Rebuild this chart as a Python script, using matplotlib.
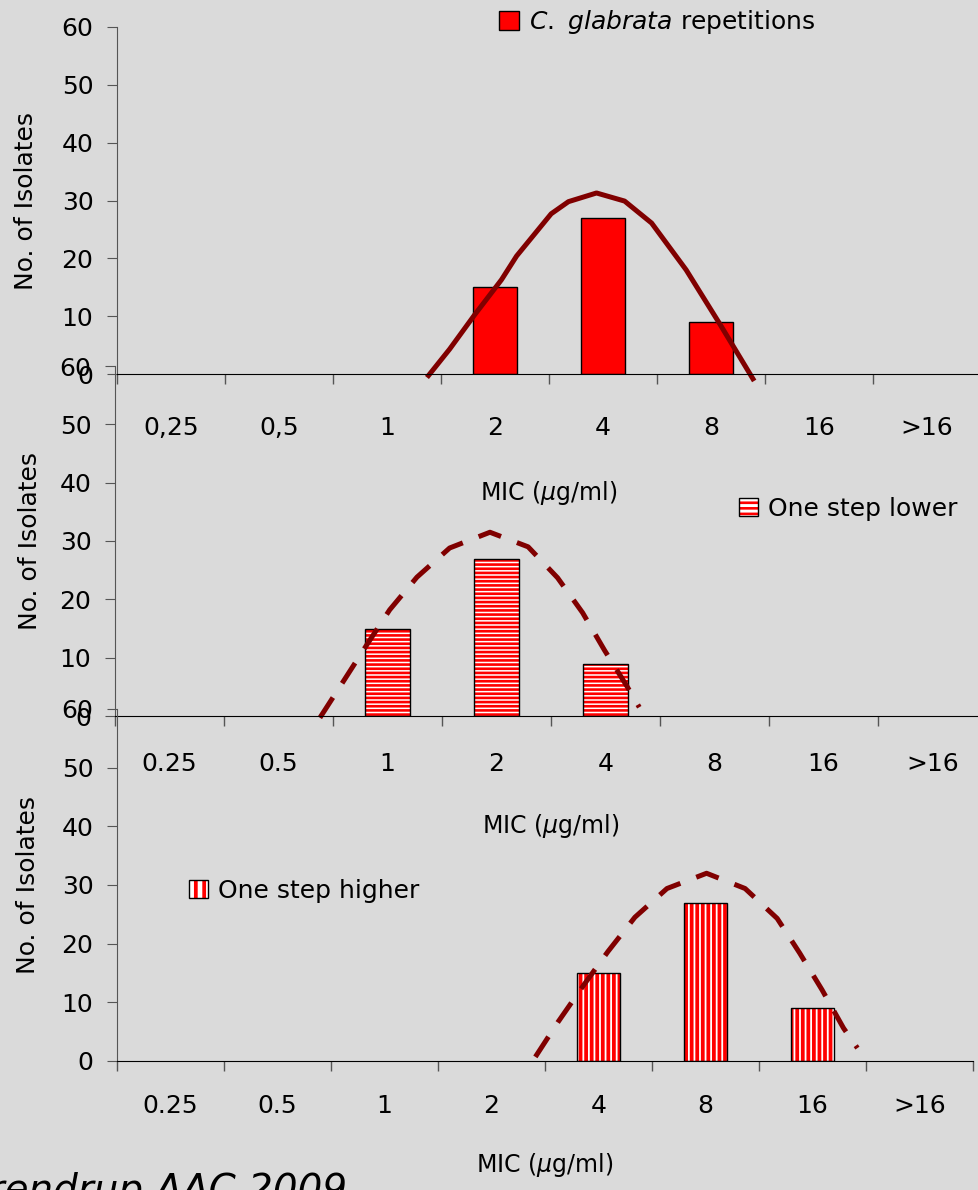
import numpy as np
import matplotlib.pyplot as plt
from matplotlib.patches import Patch
from matplotlib.legend_handler import HandlerTuple

plt.rcParams['font.family'] = ['DejaVu Sans']

# categories (MIC steps)
labels_comma = ['0,25', '0,5', '1', '2', '4', '8', '16', '>16']
labels_dot = ['0.25', '0.5', '1', '2', '4', '8', '16', '>16']

# number of isolates per MIC step
glabrata = [0, 0, 0, 15, 27, 9, 0, 0]
lower = [0, 0, 15, 27, 9, 0, 0, 0]
higher = [0, 0, 0, 0, 15, 27, 9, 0]

# trend curves (x in category index units)
trend_glab_x = [2.37, 2.58, 2.81, 3.06, 3.20, 3.52, 3.68, 3.94, 4.20, 4.45, 4.77, 5.08, 5.40]
trend_glab_y = [-0.6, 4.3, 10.2, 16.3, 20.4, 27.7, 29.8, 31.3, 29.9, 26.1, 18.0, 8.7, -1.2]
trend_low_x = [1.38, 1.59, 1.81, 2.02, 2.27, 2.57, 2.94, 3.29, 3.56, 3.79, 3.99, 4.20, 4.31]
trend_low_y = [-0.3, 5.8, 12.2, 18.2, 23.8, 28.8, 31.5, 29.0, 23.7, 17.7, 11.3, 5.0, 1.5]
trend_high_x = [3.41, 3.62, 3.86, 4.09, 4.34, 4.64, 5.01, 5.37, 5.67, 5.88, 6.09, 6.29, 6.42]
trend_high_y = [0.7, 6.6, 12.9, 18.7, 24.5, 29.4, 32.0, 29.4, 24.3, 18.4, 12.1, 5.6, 2.2]

BG = '#dadada'
RED = '#ff0000'
DARK = '#800000'
W, H = 979, 1190

fig = plt.figure(figsize=(W / 100, H / 100), dpi=100, facecolor=BG)


def axes_px(left, top, right, bottom):
    return fig.add_axes([left / W, 1 - bottom / H, (right - left) / W, (bottom - top) / H])


def style(ax, labels, pad, xlabel_y, ylabel_x):
    ax.set_facecolor('none')
    ax.set_xlim(-0.5, 7.5)
    ax.set_ylim(0, 60)
    ax.set_yticks(range(0, 61, 10))
    ax.set_xticks(range(len(labels)))
    ax.set_xticklabels(labels)
    ax.set_xticks(np.arange(-0.5, 8, 1), minor=True)
    ax.tick_params(axis='x', which='major', length=0, pad=pad, labelsize=18)
    ax.tick_params(axis='x', which='minor', length=7, color='#555555', width=1)
    ax.tick_params(axis='y', length=7, color='#555555', pad=10, labelsize=18)
    for s in ['top', 'right']:
        ax.spines[s].set_visible(False)
    ax.spines['left'].set_color('#555555')
    ax.spines['bottom'].set_color('black')
    ax.set_xlabel(r'MIC ($\mu$g/ml)', fontsize=17, va='center')
    ax.xaxis.set_label_coords(0.5, xlabel_y)
    ax.set_ylabel('No. of Isolates', fontsize=18, va='center')
    ax.yaxis.set_label_coords(ylabel_x, 0.5)


def set_hlw(patches, hlw):
    for p in patches:
        if hasattr(p, 'set_hatch_linewidth'):
            p.set_hatch_linewidth(hlw)


def nonzero(values):
    v = np.asarray(values)
    x = np.arange(len(v))
    return x[v > 0], v[v > 0]


def striped_bars(ax, values, hatch, hlw):
    x, v = nonzero(values)
    plt.rcParams['hatch.linewidth'] = hlw
    bars = ax.bar(x, v, 0.41, color='white', edgecolor=RED, hatch=hatch, linewidth=0)
    set_hlw(bars, hlw)
    ax.bar(x, v, 0.41, fill=False, edgecolor='black', linewidth=1)


def striped_legend(ax, text, hatch, hlw, anchor):
    plt.rcParams['hatch.linewidth'] = hlw
    stripes = Patch(facecolor='white', edgecolor=RED, hatch=hatch, lw=0)
    set_hlw([stripes], hlw)
    leg = ax.legend(handles=[(stripes, Patch(facecolor='none', edgecolor='black', lw=1))],
                    labels=[text], handler_map={tuple: HandlerTuple(ndivide=1, pad=0)},
                    loc='center left', bbox_to_anchor=anchor, bbox_transform=fig.transFigure,
                    frameon=False, fontsize=18, borderpad=0, borderaxespad=0,
                    handlelength=0.75, handleheight=0.75, handletextpad=0.4)
    for p in leg.get_patches():
        if p.get_hatch():
            set_hlw([p], hlw)


# panel 1: C. glabrata repetitions
ax1 = axes_px(117, 27, 981, 374)
style(ax1, labels_comma, 30, -0.343, -0.105)
x1, v1 = nonzero(glabrata)
ax1.bar(x1, v1, 0.41, color=RED, edgecolor='black', linewidth=1)
ax1.plot(trend_glab_x, trend_glab_y, color=DARK, lw=3.6, clip_on=False,
         solid_capstyle='butt', solid_joinstyle='round')
ax1.legend(handles=[Patch(facecolor=RED, edgecolor='black', lw=1)],
           labels=[r'$\it{C.\ glabrata}$ repetitions'],
           loc='center left', bbox_to_anchor=(499 / W, 1 - 22 / H), bbox_transform=fig.transFigure,
           frameon=False, fontsize=18, borderpad=0, borderaxespad=0,
           handlelength=0.8, handleheight=0.8, handletextpad=0.4)

# panel 2: one step lower
ax2 = axes_px(115, 366, 987, 716)
style(ax2, labels_dot, 26, -0.314, -0.0975)
striped_bars(ax2, lower, '----', 1.9)
ax2.plot(trend_low_x, trend_low_y, color=DARK, lw=3.6, clip_on=False,
         linestyle=(0, (4.8, 3.4)), dash_capstyle='butt', dash_joinstyle='round')
striped_legend(ax2, 'One step lower', '---', 1.9, (739 / W, 1 - 509 / H))

# panel 3: one step higher
ax3 = axes_px(117, 709, 973, 1061)
style(ax3, labels_dot, 24, -0.295, -0.104)
striped_bars(ax3, higher, '|||', 2.7)
ax3.plot(trend_high_x, trend_high_y, color=DARK, lw=3.6, clip_on=False,
         linestyle=(0, (4.8, 3.4)), dash_capstyle='butt', dash_joinstyle='round')
striped_legend(ax3, 'One step higher', '||', 2.7, (189 / W, 1 - 891 / H))

plt.rcParams['hatch.linewidth'] = 2.2

fig.text(347 / W, 1 - 1202 / H, 'Arendrup AAC 2009', fontsize=28, style='italic',
         ha='right', va='baseline')

fig.savefig('out.png', dpi=100, facecolor=BG)
